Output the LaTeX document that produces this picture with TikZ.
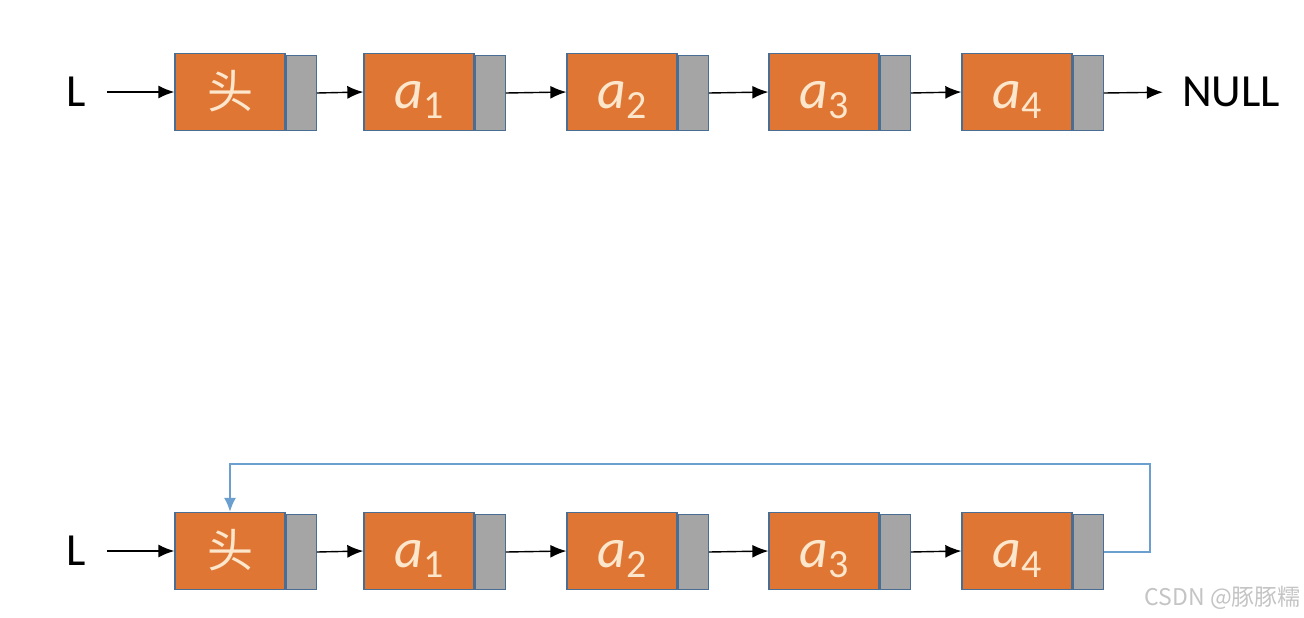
\documentclass[tikz,border=0pt]{standalone}
\usepackage{fontspec}
\setmainfont{Carlito}
\newfontfamily\cjk{Noto Sans CJK SC}
\usetikzlibrary{arrows.meta}
\definecolor{orng}{HTML}{E07634}
\definecolor{grayc}{HTML}{A5A5A5}
\definecolor{bordc}{HTML}{4A6E93}
\definecolor{txtc}{HTML}{FCE6CC}
\definecolor{loopc}{HTML}{6A9FCF}
\definecolor{wmc}{HTML}{C4C4C4}
\newcommand{\elem}[1]{{\fontsize{56}{56}\selectfont\itshape a}\kern0pt\raisebox{-10pt}{\fontsize{40}{40}\selectfont #1}}
\newcommand{\headtxt}{{\cjk\fontsize{46}{46}\selectfont 头}}
\begin{document}
\begin{tikzpicture}[x=1pt,y=-1pt,
  data/.style={draw=bordc, line width=1.3pt, fill=orng, minimum width=110pt, minimum height=77pt, inner sep=0pt, text=txtc, text height=40pt, text depth=8pt},
  ptr/.style={draw=bordc, line width=1.3pt, fill=grayc, minimum width=30pt, minimum height=75pt, inner sep=0pt, anchor=south west},
  link/.style={-{Latex[length=16pt,width=13pt]}, line width=1.4pt, black},
  loopln/.style={-{Latex[length=14pt,width=12pt]}, line width=1.7pt, loopc},
  lbl/.style={font=\fontsize{46}{46}\selectfont, inner sep=2pt}
]
\useasboundingbox (0,0) rectangle (1304,618);
\fill[white] (0,0) rectangle (1304,618);

% top row
\node[lbl] (L1) at (76,92) {L};
\node[data] (t0) at (230,92) {\headtxt};
\node[ptr] (t0p) at (t0.south east) {};
\node[data] (t1) at (419,92) {\elem{1}};
\node[ptr] (t1p) at (t1.south east) {};
\node[data] (t2) at (622,92) {\elem{2}};
\node[ptr] (t2p) at (t2.south east) {};
\node[data] (t3) at (824,92) {\elem{3}};
\node[ptr] (t3p) at (t3.south east) {};
\node[data] (t4) at (1017,92) {\elem{4}};
\node[ptr] (t4p) at (t4.south east) {};
\node[lbl] (null) at (1231,92) {NULL};

\draw[link, shorten <=19pt] (L1.east) -- (t0.west);
\draw[link] (t0p.east) -- (t1.west);
\draw[link] (t1p.east) -- (t2.west);
\draw[link] (t2p.east) -- (t3.west);
\draw[link] (t3p.east) -- (t4.west);
\draw[link, shorten >=17pt] (t4p.east) -- (null.west);

% bottom row
\node[lbl] (L2) at (76,551) {L};
\node[data] (b0) at (230,551) {\headtxt};
\node[ptr] (b0p) at (b0.south east) {};
\node[data] (b1) at (419,551) {\elem{1}};
\node[ptr] (b1p) at (b1.south east) {};
\node[data] (b2) at (622,551) {\elem{2}};
\node[ptr] (b2p) at (b2.south east) {};
\node[data] (b3) at (824,551) {\elem{3}};
\node[ptr] (b3p) at (b3.south east) {};
\node[data] (b4) at (1017,551) {\elem{4}};
\node[ptr] (b4p) at (b4.south east) {};

\draw[link, shorten <=19pt] (L2.east) -- (b0.west);
\draw[link] (b0p.east) -- (b1.west);
\draw[link] (b1p.east) -- (b2.west);
\draw[link] (b2p.east) -- (b3.west);
\draw[link] (b3p.east) -- (b4.west);

\coordinate (lr) at (1150,464);
\draw[loopln] (b4p.east) -| (lr) -| (b0.north);

% watermark
\node[text=wmc, font=\cjk\fontsize{23}{23}\selectfont, anchor=east, inner sep=0pt] (wm) at (1301,598) {CSDN @豚豚糯};
\end{tikzpicture}
\end{document}
